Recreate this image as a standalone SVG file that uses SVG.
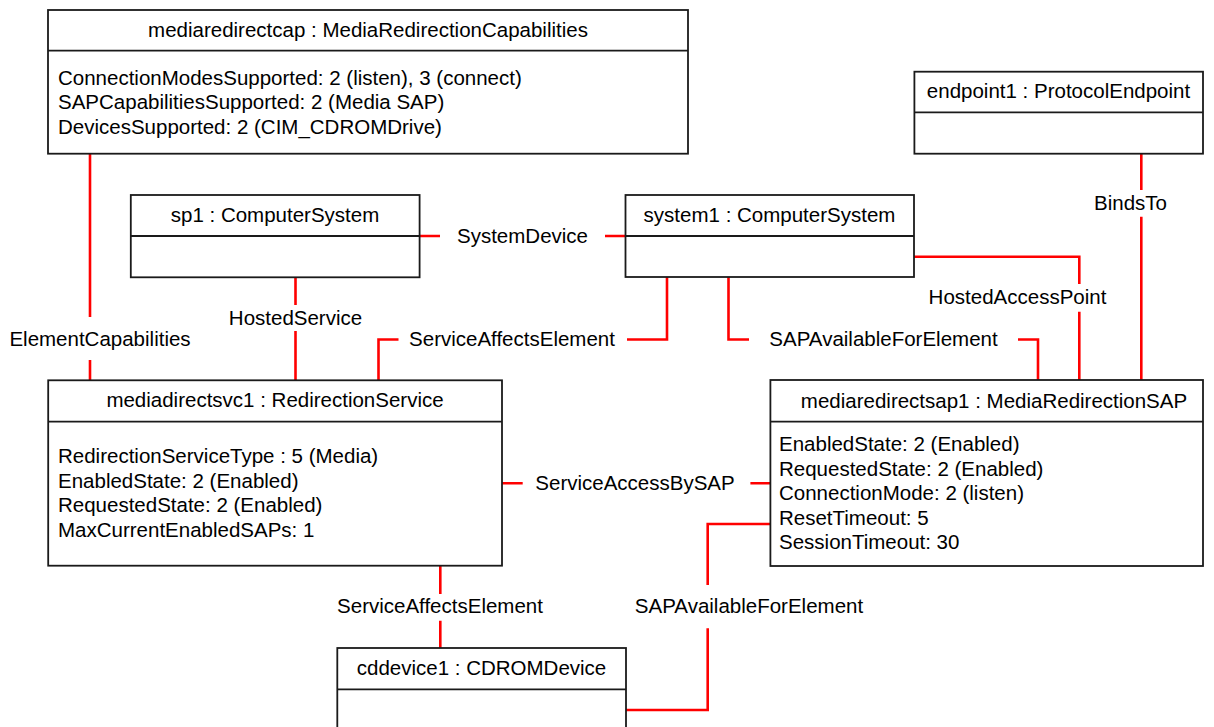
<svg xmlns="http://www.w3.org/2000/svg" width="1214" height="727" viewBox="0 0 1214 727">
<style>
.box{fill:#fff;stroke:#1a1a1a;stroke-width:1.8}
.div{stroke:#1a1a1a;stroke-width:1.8;fill:none}
.t{font-family:"Liberation Sans",Arial,sans-serif;font-size:20.5px;fill:#000}
.c{text-anchor:middle}
.con{fill:none;stroke:#ff0000;stroke-width:2.6}
</style>
<rect width="1214" height="727" fill="#fff"/>
<g id="connectors">
<path class="con" d="M90 154 V317 M90 360 V380"/>
<path class="con" d="M295.5 277 V305 M295.5 331 V380"/>
<path class="con" d="M419.5 236 H440 M605 236 H625.5"/>
<path class="con" d="M378.5 380 V339.5 H398.5 M627 339.5 H667 V277"/>
<path class="con" d="M728.5 277 V339.5 H749 M1018 339.5 H1038 V380"/>
<path class="con" d="M914 256.7 H1079.3 V284 M1079.3 311.7 V380"/>
<path class="con" d="M1141.3 154 V190 M1141.3 216.7 V380"/>
<path class="con" d="M502 483.3 H522.7 M750.4 483.3 H770"/>
<path class="con" d="M440.3 566 V594 M440.3 620.7 V648"/>
<path class="con" d="M770 524 H707.7 V585 M707.7 628.3 V710 H626"/>
<text class="t c" x="100" y="346">ElementCapabilities</text>
<text class="t c" x="295.5" y="325">HostedService</text>
<text class="t c" x="522.5" y="243">SystemDevice</text>
<text class="t c" x="512" y="346">ServiceAffectsElement</text>
<text class="t c" x="883.5" y="346">SAPAvailableForElement</text>
<text class="t c" x="1017.5" y="304">HostedAccessPoint</text>
<text class="t c" x="1130.5" y="210">BindsTo</text>
<text class="t c" x="635" y="490">ServiceAccessBySAP</text>
<text class="t c" x="440" y="613">ServiceAffectsElement</text>
<text class="t c" x="749" y="613">SAPAvailableForElement</text>
</g>
<g id="mediaredirectcap">
<rect class="box" x="48" y="10" width="640" height="143.7"/>
<path class="div" d="M48 50.7 H688"/>
<text class="t c" x="368" y="37">mediaredirectcap : MediaRedirectionCapabilities</text>
<text class="t" x="58" y="84.5">ConnectionModesSupported: 2 (listen), 3 (connect)</text>
<text class="t" x="58" y="109">SAPCapabilitiesSupported: 2 (Media SAP)</text>
<text class="t" x="58" y="133.5">DevicesSupported: 2 (CIM_CDROMDrive)</text>
</g>
<g id="endpoint1">
<rect class="box" x="914.4" y="71.7" width="288.6" height="82"/>
<path class="div" d="M914.4 112.3 H1203"/>
<text class="t c" x="1058.5" y="98">endpoint1 : ProtocolEndpoint</text>
</g>
<g id="sp1">
<rect class="box" x="130.8" y="195" width="288.8" height="82.3"/>
<path class="div" d="M130.8 236 H419.6"/>
<text class="t c" x="275" y="222">sp1 : ComputerSystem</text>
</g>
<g id="system1">
<rect class="box" x="625.5" y="195" width="288.5" height="82"/>
<path class="div" d="M625.5 236 H914"/>
<text class="t c" x="769.5" y="222">system1 : ComputerSystem</text>
</g>
<g id="mediadirectsvc1">
<rect class="box" x="48.2" y="380.3" width="453.8" height="185.4"/>
<path class="div" d="M48.2 421.7 H502"/>
<text class="t c" x="275" y="407">mediadirectsvc1 : RedirectionService</text>
<text class="t" x="58" y="463">RedirectionServiceType : 5 (Media)</text>
<text class="t" x="58" y="487.5">EnabledState: 2 (Enabled)</text>
<text class="t" x="58" y="512">RequestedState: 2 (Enabled)</text>
<text class="t" x="58" y="536.5">MaxCurrentEnabledSAPs: 1</text>
</g>
<g id="mediaredirectsap1">
<rect class="box" x="770.4" y="380" width="432.6" height="186"/>
<path class="div" d="M770.4 421.7 H1203"/>
<text class="t c" x="994" y="408">mediaredirectsap1 : MediaRedirectionSAP</text>
<text class="t" x="779" y="451">EnabledState: 2 (Enabled)</text>
<text class="t" x="779" y="475.5">RequestedState: 2 (Enabled)</text>
<text class="t" x="779" y="500">ConnectionMode: 2 (listen)</text>
<text class="t" x="779" y="524.5">ResetTimeout: 5</text>
<text class="t" x="779" y="549">SessionTimeout: 30</text>
</g>
<g id="cddevice1">
<rect class="box" x="337.3" y="648" width="288.7" height="100"/>
<path class="div" d="M337.3 689.3 H626"/>
<text class="t c" x="481.5" y="675">cddevice1 : CDROMDevice</text>
</g>
</svg>
